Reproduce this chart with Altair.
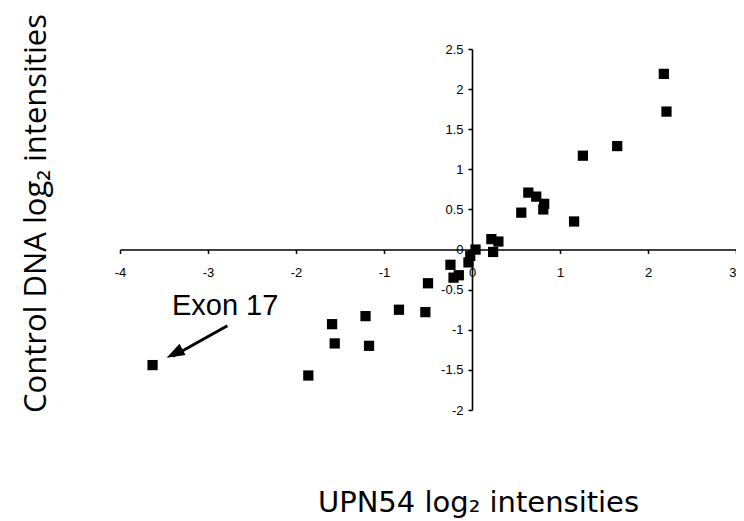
import altair as alt
import pandas as pd

# Data
upn54 = [2.18, 2.21, 1.65, 1.26, 1.16, 0.64, 0.73, 0.82, 0.81, 0.56,
         0.22, 0.30, 0.24, 0.04, -0.02, -0.04, -0.245, -0.15, -0.21, -0.50,
         -0.53, -0.83, -1.21, -1.17, -1.59, -1.56, -1.86, -3.63]
control = [2.19, 1.72, 1.29, 1.17, 0.35, 0.71, 0.66, 0.57, 0.50, 0.46,
           0.13, 0.10, -0.03, 0.0, -0.08, -0.16, -0.19, -0.32, -0.35, -0.42,
           -0.78, -0.75, -0.83, -1.20, -0.93, -1.17, -1.57, -1.44]

x_ticks = [-4, -3, -2, -1, 0, 1, 2, 3]
y_ticks = [-2, -1.5, -1, -0.5, 0, 0.5, 1, 1.5, 2, 2.5]

annot_text = ["Exon 17"]
annot_x = [-3.41]
annot_y = [-0.82]
arrow_x = [-2.78, -3.40]
arrow_y = [-0.95, -1.33]
arrow_tip_x = [-3.47]
arrow_tip_y = [-1.35]

XMIN, XMAX = -4, 3
YMIN, YMAX = -2, 2.5
W, H = 616, 361

pts = pd.DataFrame({"x": upn54, "y": control})
ann = pd.DataFrame({"x": annot_x, "y": annot_y, "t": annot_text})
arr = pd.DataFrame({"x": arrow_x, "y": arrow_y, "o": [0, 1]})
tip = pd.DataFrame({"x": arrow_tip_x, "y": arrow_tip_y})

xpos = H * (YMAX - 0) / (YMAX - YMIN)   # pixel y of the zero line
ypos = W * (0 - XMIN) / (XMAX - XMIN)   # pixel x of the zero line

lab_expr = "datum.value < 0 ? '-' + format(-datum.value, '.1~f') : format(datum.value, '.1~f')"

xscale = alt.Scale(domain=[XMIN, XMAX], nice=False, zero=False)
yscale = alt.Scale(domain=[YMIN, YMAX], nice=False, zero=False)

x_axis = alt.Axis(
    values=x_ticks, offset=-(H - xpos), grid=False, labelExpr=lab_expr,
    labelOverlap=False, labelFlush=False, labelFont="Liberation Sans",
    labelAlign={"condition": {"test": "datum.value >= 3", "value": "right"},
                "value": "center"},
    labelFontSize=13, labelColor="black", labelPadding=13, tickSize=4,
    tickColor="black", tickWidth=1.5, domainColor="black", domainWidth=1.6,
    title="UPN54 log\u2082 intensities", titleFont="DejaVu Sans",
    titleFontSize=29, titleFontWeight="normal", titleColor="black",
    titleX=358, titleY=262, titleAlign="center", titleBaseline="alphabetic",
    titleAngle=0,
)
y_axis = alt.Axis(
    values=y_ticks, offset=-ypos, grid=False, labelExpr=lab_expr,
    labelOverlap=False, labelFlush=False, labelFont="Liberation Sans",
    labelFontSize=13, labelColor="black", labelPadding=5, tickSize=4,
    tickColor="black", tickWidth=1.5, domainColor="black", domainWidth=1.6,
    title="Control DNA log\u2082 intensities", titleFont="Open Sans",
    titleFontSize=31, titleFontWeight="normal", titleColor="black",
    titleX=-(ypos + 75), titleY=164, titleAlign="center",
    titleBaseline="alphabetic", titleAngle=270,
)

base = alt.Chart(pts).mark_point(
    shape="square", filled=True, size=105, color="black", opacity=1
).encode(
    x=alt.X("x:Q", scale=xscale, axis=x_axis),
    y=alt.Y("y:Q", scale=yscale, axis=y_axis),
)

text = alt.Chart(ann).mark_text(
    align="left", baseline="alphabetic", font="Liberation Sans",
    fontSize=29, color="black"
).encode(x=alt.X("x:Q", scale=xscale), y=alt.Y("y:Q", scale=yscale), text="t:N")

line = alt.Chart(arr).mark_line(color="black", strokeWidth=3).encode(
    x=alt.X("x:Q", scale=xscale), y=alt.Y("y:Q", scale=yscale), order="o:Q"
)

head = alt.Chart(tip).mark_point(
    shape="M 0 0 L 0.5 1.4 L -0.5 1.4 Z", filled=True, size=660,
    color="black", opacity=1, angle=242
).encode(x=alt.X("x:Q", scale=xscale), y=alt.Y("y:Q", scale=yscale))

chart = alt.layer(base, line, head, text).properties(
    width=W, height=H,
    autosize=alt.AutoSizeParams(type="none"),
    padding={"left": 112, "top": 41, "right": 0, "bottom": 111},
).configure_view(strokeWidth=0)

chart.save("out.html", embed_options={"renderer": "svg", "actions": False})
